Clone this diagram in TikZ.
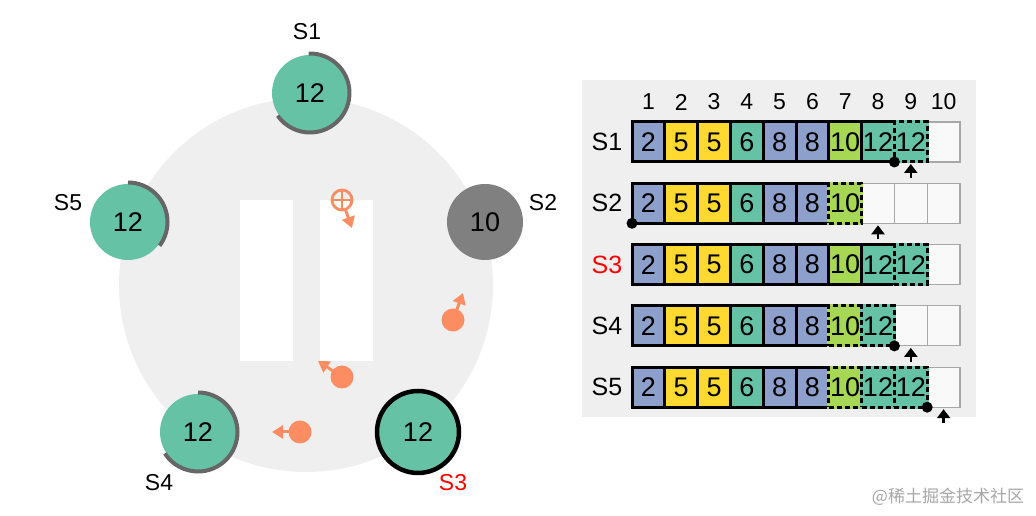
\documentclass[tikz,border=0pt]{standalone}
\usepackage{fontspec}
\setmainfont{Liberation Sans}
\newfontfamily\cjkfont{Noto Sans CJK SC}
\usetikzlibrary{arrows.meta}
\definecolor{cteal}{HTML}{66C2A5}
\definecolor{corange}{HTML}{FC8D62}
\definecolor{cblue}{HTML}{8DA0CB}
\definecolor{cyellow}{HTML}{FFD92F}
\definecolor{clime}{HTML}{A6D854}
\definecolor{cnodegray}{HTML}{808080}
\definecolor{carcgray}{HTML}{666666}
\definecolor{cbg}{HTML}{EFEFEF}
\definecolor{cemptyline}{HTML}{A8A8A8}
\colorlet{v2}{cblue}
\colorlet{v5}{cyellow}
\colorlet{v6}{cteal}
\colorlet{v8}{cblue}
\colorlet{v10}{clime}
\colorlet{v12}{cteal}
\tikzset{
  server/.style={circle, fill=cteal, minimum size=76pt, inner sep=0pt, font=\fontsize{27}{30}\selectfont},
  leader/.style={server, draw=black, line width=4.5pt, minimum size=82pt},
  downserver/.style={server, fill=cnodegray},
  slabel/.style={font=\fontsize{23}{26}\selectfont},
  termarc/.style={draw=carcgray, line width=4pt},
  msgdot/.style={circle, fill=corange, minimum size=23pt, inner sep=0pt},
  msgarrow/.style={draw=corange, line width=3pt, -{Triangle[length=11pt, width=13pt]}},
  lostmsg/.style={circle, draw=corange, line width=2.8pt, minimum size=20pt, inner sep=0pt},
  cellbase/.style={minimum width=32.8pt, minimum height=40pt, inner sep=0pt, font=\fontsize{27}{30}\selectfont},
  cellempty/.style={cellbase, draw=cemptyline, line width=1.2pt, fill=white!60!cbg},
  cells/.style={cellbase, fill=#1, draw=black, line width=3pt},
  celld/.style={cellbase, preaction={draw=#1, solid, line width=3pt}, fill=#1, draw=black, line width=3pt, dash pattern=on 5pt off 3pt},
  hdr/.style={font=\fontsize{23}{26}\selectfont},
  rowlabel/.style={font=\fontsize{25}{28}\selectfont},
  commitdot/.style={circle, fill=black, minimum size=11pt, inner sep=0pt},
  nextarrow/.style={line width=2.4pt, -{Triangle[length=9pt, width=13pt]}},
}
\newcommand\logrow[3]{%
  \foreach \i in {1,...,10} {
    \pgfmathsetmacro\cx{632+32.8*(\i-0.5)}
    \node[cellempty] (e#1c\i) at (\cx, #2-20) {};
  }
  \foreach \v/\t [count=\i] in {#3} {
    \pgfmathsetmacro\cx{632+32.8*(\i-0.5)}
    \node[cell\t=v\v] (r#1c\i) at (\cx, #2-20) {\v};
  }
}
\begin{document}
\begin{tikzpicture}[x=1pt,y=1pt]
\useasboundingbox (0,0) rectangle (1036,516);
% left panel
\fill[cbg] (306,231) circle (187);
\fill[white] (240,316) rectangle (293,155);
\fill[white] (320,316) rectangle (373,155);

\node[server] (S1) at (310,423) {12};
\node[server] (S5) at (128,294) {12};
\node[downserver] (S2) at (485,294) {10};
\node[server] (S4) at (198,84) {12};
\node[leader] (S3) at (418,84) {12};

\draw[termarc] (S1.center) ++(92:39.5) arc[start angle=92, end angle=-145, radius=39.5];
\draw[termarc] (S5.center) ++(90:39.5) arc[start angle=90, end angle=-37, radius=39.5];
\draw[termarc] (S4.center) ++(90:39.5) arc[start angle=90, end angle=-147, radius=39.5];

\node[slabel] (L1) at (307,484) {S1};
\node[slabel] (L5) at (68,313) {S5};
\node[slabel] (L2) at (543,313) {S2};
\node[slabel] (L4) at (159,33) {S4};
\node[slabel, text=red] (L3) at (453,33) {S3};

% messages
\node[lostmsg] (ox) at (342,316) {};
\draw[corange, line width=2.4pt] (ox.north) -- (ox.south) (ox.west) -- (ox.east);
\coordinate (tx) at (352,288);
\draw[msgarrow] (ox) -- (tx);

\node[msgdot] (m1) at (453,196) {};
\coordinate (t1) at (463,223);
\draw[msgarrow] (m1.center) -- (t1);

\node[msgdot] (m2) at (342,139) {};
\coordinate (t2) at (318,155);
\draw[msgarrow] (m2.center) -- (t2);

\node[msgdot] (m3) at (300,84) {};
\coordinate (t3) at (272,84);
\draw[msgarrow] (m3.center) -- (t3);

% right panel
\fill[cbg] (582,436) rectangle (976,99);
\foreach \i in {1,...,10} {
  \pgfmathsetmacro\cx{632+32.8*(\i-0.5)}
  \node[hdr] (h\i) at (\cx,414) {\i};
}
\node[rowlabel] (RL1) at (607,374) {S1};
\node[rowlabel] (RL2) at (607,312.7) {S2};
\node[rowlabel, text=red] (RL3) at (607,251.4) {S3};
\node[rowlabel] (RL4) at (607,190.1) {S4};
\node[rowlabel] (RL5) at (607,128.8) {S5};

\logrow{1}{394}{2/s,5/s,5/s,6/s,8/s,8/s,10/s,12/s,12/d}
\logrow{2}{332.7}{2/s,5/s,5/s,6/s,8/s,8/s,10/d}
\logrow{3}{271.4}{2/s,5/s,5/s,6/s,8/s,8/s,10/s,12/s,12/d}
\logrow{4}{210.1}{2/s,5/s,5/s,6/s,8/s,8/s,10/d,12/d}
\logrow{5}{148.8}{2/s,5/s,5/s,6/s,8/s,8/s,10/d,12/d,12/d}

% commit dots
\node[commitdot] (d1) at (894.4,354) {};
\node[commitdot] (d2) at (632,292.7) {};
\node[commitdot] (d4) at (894.4,170.1) {};
\node[commitdot] (d5) at (927.2,108.8) {};

% next index arrows
\coordinate (a1s) at (910.8,338); \coordinate (a1e) at (910.8,352);
\coordinate (a2s) at (878,276.7); \coordinate (a2e) at (878,290.7);
\coordinate (a4s) at (910.8,154.1); \coordinate (a4e) at (910.8,168.1);
\coordinate (a5s) at (943.6,92.8); \coordinate (a5e) at (943.6,106.8);
\draw[nextarrow] (a1s) -- (a1e);
\draw[nextarrow] (a2s) -- (a2e);
\draw[nextarrow] (a4s) -- (a4e);
\draw[nextarrow] (a5s) -- (a5e);

\node[text=black!35, font=\cjkfont\fontsize{17}{20}\selectfont] (wm) at (948,19) {@稀土掘金技术社区};
\end{tikzpicture}
\end{document}
